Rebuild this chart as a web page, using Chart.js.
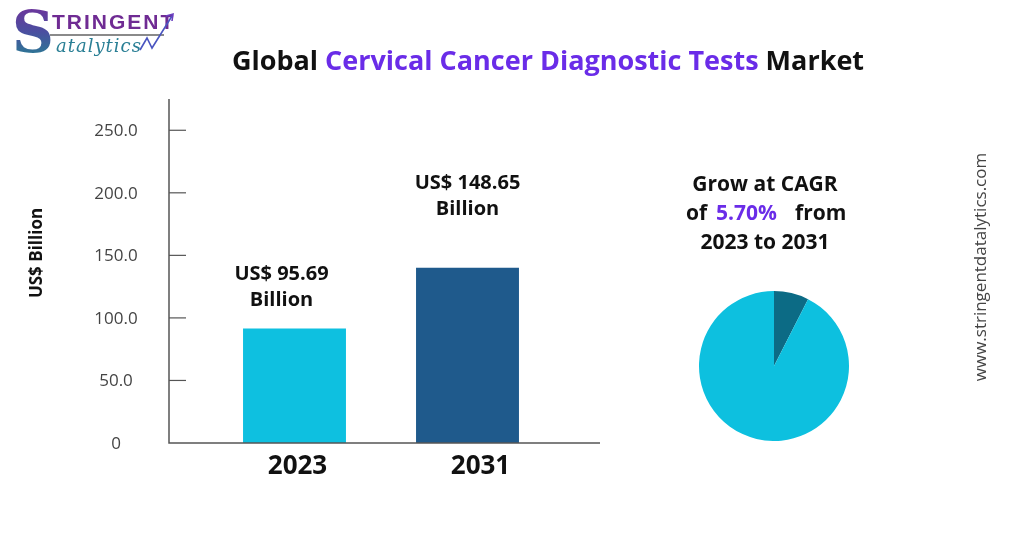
<!DOCTYPE html>
<html>
<head>
<meta charset="utf-8">
<script src="https://cdn.jsdelivr.net/npm/chart.js@4.4.1/dist/chart.umd.min.js"></script>
<style>
  html, body { margin: 0; padding: 0; background: #fff; }
  #wrap { position: relative; width: 1024px; height: 535px; overflow: hidden; }
  #barChart { position: absolute; left: 0; top: 0; }
  #pieChart { position: absolute; left: 699px; top: 291px; }
  .logo { position: absolute; left: 10px; top: 4px; width: 180px; height: 60px; }
  .logo .bigS { position: absolute; left: 2px; top: -6px; font: 700 58px "DejaVu Serif", serif;
      background: linear-gradient(180deg, #7a2a9a 0%, #4a4fa0 50%, #1e8a8f 100%);
      -webkit-background-clip: text; background-clip: text; color: transparent; }
  .logo .top { position: absolute; left: 42px; top: 6px; font: 700 21px "Liberation Sans", sans-serif;
      color: #6f2b93; letter-spacing: 2px; }
  .logo .rule { position: absolute; left: 40px; top: 30px; width: 114px; height: 2px; background: #8a8a8a; }
  .logo .bottom { position: absolute; left: 46px; top: 31px; font: italic 18px "DejaVu Serif", serif;
      color: #2a7f95; letter-spacing: 1px; }
</style>
</head>
<body>
<div id="wrap">
  <canvas id="barChart" width="1024" height="535"></canvas>
  <canvas id="pieChart" width="150" height="150"></canvas>
  <div class="logo">
    <div class="bigS">S</div>
    <div class="top">TRINGENT</div>
    <div class="rule"></div>
    <div class="bottom">atalytics</div>
    <svg width="180" height="60" style="position:absolute;left:-10px;top:-4px">
      <polyline points="140,50 147,38 152,48 172,16" fill="none" stroke="#4a55c0" stroke-width="1.6"/>
      <polyline points="166,16 173,14 172,21" fill="none" stroke="#6a3ec0" stroke-width="1.6"/>
    </svg>
  </div>
</div>
<script>
/* -----------------------------------------------------------
   DATA
----------------------------------------------------------- */
const years = ["2023", "2031"];
const marketValues = [91.5, 140];           // bar heights as drawn
const valueLabels = ["US$ 95.69", "US$ 148.65"];
const yTicks = [0, 50, 100, 150, 200, 250];
const cagrShare = [7.5, 92.5];              // dark slice, rest
const barColors = ["#0ec0e0", "#1f5a8c"];
const pieColors = ["#0c6b85", "#0dc0df"];

/* -----------------------------------------------------------
   AXES + TEXT PLUGIN
----------------------------------------------------------- */
const decor = {
    id: "decor",
    afterDraw: (chart) => {
        const ctx = chart.ctx;
        const area = chart.chartArea;
        const y = chart.scales.y;
        const x = chart.scales.x;
        const axisLeft = area.left - 39;
        const axisRight = area.right + 46;
        ctx.save();

        // axis lines
        ctx.strokeStyle = "#555";
        ctx.lineWidth = 1.5;
        ctx.beginPath();
        ctx.moveTo(axisLeft, area.top);
        ctx.lineTo(axisLeft, area.bottom);
        ctx.lineTo(axisRight, area.bottom);
        ctx.stroke();

        // y ticks + labels
        ctx.lineWidth = 1.2;
        ctx.fillStyle = "#444";
        ctx.font = "17px 'Open Sans', sans-serif";
        ctx.textAlign = "center";
        ctx.textBaseline = "middle";
        yTicks.forEach(v => {
            const py = y.getPixelForValue(v);
            if (v > 0) {
                ctx.beginPath();
                ctx.moveTo(axisLeft, py);
                ctx.lineTo(axisLeft + 17, py);
                ctx.stroke();
            }
            ctx.fillText(v === 0 ? "0" : v.toFixed(1), 116, py + 1);
        });

        // y title
        ctx.save();
        ctx.translate(37, 253);
        ctx.rotate(-Math.PI / 2);
        ctx.fillStyle = "#111";
        ctx.font = "bold 17px 'Open Sans', sans-serif";
        ctx.fillText("US$ Billion", 0, 0);
        ctx.restore();

        // year labels
        ctx.fillStyle = "#111";
        ctx.font = "bold 26px 'Open Sans', sans-serif";
        const yearShift = [3, 13];
        years.forEach((yr, i) => {
            ctx.fillText(yr, x.getPixelForValue(i) + yearShift[i], 467);
        });

        // value labels above bars
        const meta = chart.getDatasetMeta(0);
        const lift = [54, 85];
        ctx.font = "bold 20px 'Open Sans', sans-serif";
        meta.data.forEach((bar, i) => {
            const cx = bar.x - 13 + i * 13;
            const top = bar.y - lift[i];
            ctx.fillText(valueLabels[i], cx, top);
            ctx.fillText("Billion", cx, top + 26);
        });

        // title
        const parts = [["Global ", "#111"], ["Cervical Cancer Diagnostic Tests", "#6a2ce8"], [" Market", "#111"]];
        ctx.font = "bold 27px 'Open Sans', sans-serif";
        ctx.textAlign = "left";
        const total = parts.reduce((s, p) => s + ctx.measureText(p[0]).width, 0);
        let tx = 548 - total / 2;
        parts.forEach(p => {
            ctx.fillStyle = p[1];
            ctx.fillText(p[0], tx, 62);
            tx += ctx.measureText(p[0]).width;
        });

        // CAGR text
        ctx.textAlign = "center";
        ctx.font = "bold 21px 'Open Sans', sans-serif";
        ctx.fillStyle = "#111";
        ctx.fillText("Grow at CAGR", 765, 185);
        ctx.fillText("2023 to 2031", 765, 243);
        ctx.textAlign = "left";
        ctx.fillText("of", 686, 214);
        ctx.fillStyle = "#6a2ce8";
        ctx.fillText("5.70%", 716, 214);
        ctx.fillStyle = "#111";
        ctx.fillText("from", 795, 214);

        // site watermark
        ctx.save();
        ctx.translate(981, 267);
        ctx.rotate(-Math.PI / 2);
        ctx.textAlign = "center";
        ctx.fillStyle = "#444";
        ctx.font = "17px 'Open Sans', sans-serif";
        ctx.fillText("www.stringentdatalytics.com", 0, 0);
        ctx.restore();

        ctx.restore();
    }
};

/* -----------------------------------------------------------
   BAR CHART
----------------------------------------------------------- */
new Chart(document.getElementById("barChart"), {
    type: "bar",
    data: {
        labels: years,
        datasets: [{
            data: marketValues,
            backgroundColor: barColors,
            borderWidth: 0,
            categoryPercentage: 1,
            barPercentage: 0.595
        }]
    },
    options: {
        responsive: false,
        animation: false,
        layout: { padding: { left: 208, right: 470, top: 99, bottom: 92 } },
        plugins: { legend: { display: false }, tooltip: { enabled: false } },
        scales: {
            x: { display: false },
            y: { min: 0, max: 275, display: false }
        }
    },
    plugins: [decor]
});

/* -----------------------------------------------------------
   PIE
----------------------------------------------------------- */
new Chart(document.getElementById("pieChart"), {
    type: "pie",
    data: {
        labels: ["CAGR", "Base"],
        datasets: [{ data: cagrShare, backgroundColor: pieColors, borderWidth: 0 }]
    },
    options: {
        responsive: false,
        animation: false,
        plugins: { legend: { display: false }, tooltip: { enabled: false } }
    }
});
</script>
</body>
</html>
